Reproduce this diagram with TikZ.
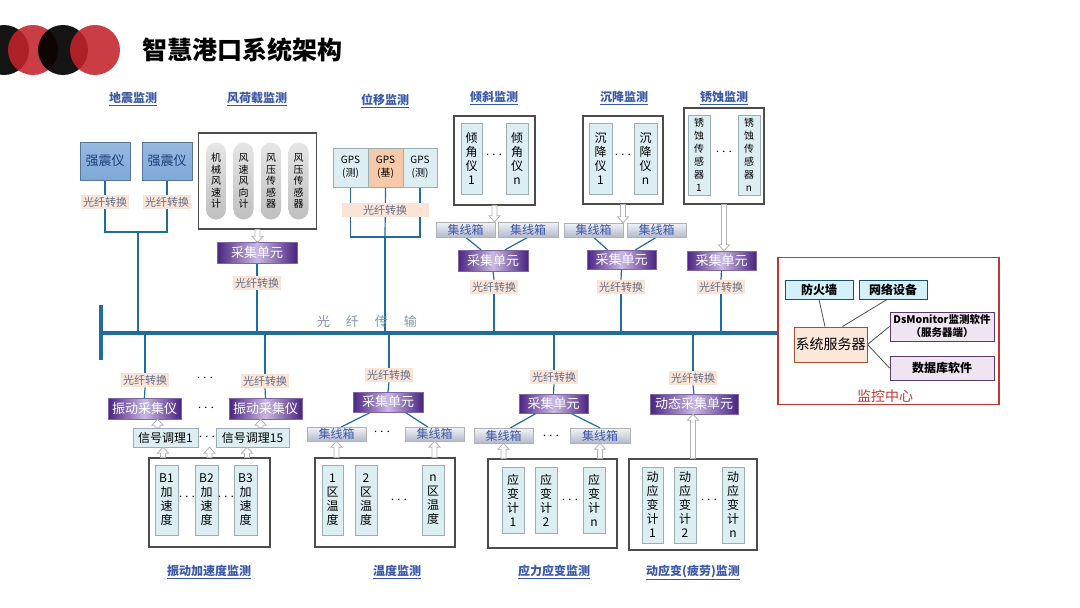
\documentclass[tikz,border=0pt]{standalone}
\usepackage{fontspec}
\setmainfont{Noto Sans CJK SC}
\usetikzlibrary{calc,backgrounds}

\definecolor{busblue}{HTML}{1F6C9E}
\definecolor{labelblue}{HTML}{3A58A8}
\definecolor{cellblue}{HTML}{DCEEF2}
\definecolor{cellline}{HTML}{9AAFB5}
\definecolor{fiberfill}{HTML}{FBE4D5}
\definecolor{fibertext}{HTML}{5F6F8C}
\definecolor{unitdark}{HTML}{4A2480}
\definecolor{unitlight}{HTML}{C9B8E2}
\definecolor{hubtop}{HTML}{F2F3F7}
\definecolor{hubbot}{HTML}{B5BACB}
\definecolor{quakefill}{HTML}{7EA8D8}
\definecolor{quaketext}{HTML}{1C3D78}
\definecolor{monred}{HTML}{C0392B}
\definecolor{titlered}{HTML}{C4222A}
\definecolor{fwfill}{HTML}{D4F1F9}
\definecolor{fwline}{HTML}{1E4E6E}
\definecolor{srvfill}{HTML}{FCE7DB}
\definecolor{srvline}{HTML}{A0522D}
\definecolor{swfill}{HTML}{EFE4F1}
\definecolor{swline}{HTML}{5A3A6A}
\definecolor{gpsbase}{HTML}{F6C9A9}
\definecolor{bustext}{HTML}{8096B0}

\tikzset{
  bus/.style={draw=busblue, line width=3.5pt},
  trunk/.style={draw=busblue, line width=2.4pt},
  link/.style={draw=busblue, line width=1.2pt},
  head/.style={text=labelblue, font=\fontsize{12}{14}\selectfont\bfseries},
  fiber/.style={fill=fiberfill, text=fibertext, inner sep=2pt, font=\fontsize{11}{13}\selectfont},
  unit/.style={left color=unitdark, right color=unitdark, middle color=unitlight, draw=unitdark!70, text=white, font=\fontsize{13}{15}\selectfont, inner sep=0pt},
  hub/.style={top color=hubtop, bottom color=hubbot, draw=gray!60, text=labelblue, font=\fontsize{12}{14}\selectfont, inner sep=0pt},
  cell/.style={draw=cellline, fill=cellblue, inner sep=0pt, align=center, font=\fontsize{12}{14}\selectfont},
  quake/.style={top color=quakefill!80, bottom color=quakefill, draw=quakefill!70!black, text=quaketext, font=\fontsize{13}{15}\selectfont},
  group/.style={draw=black!70, line width=1.1pt, fill=white, inner sep=0pt},
  pill/.style={rounded corners=10pt, top color=gray!20, bottom color=gray!50, inner sep=0pt, align=center, font=\fontsize{10}{11.5}\selectfont},
  dots/.style={inner sep=0pt, font=\fontsize{15}{15}\selectfont},
  hollow/.style={draw=gray!60, fill=white, line width=0.8pt,
    to path={let \p1=(\tikztostart), \p2=(\tikztotarget), \n1={sign(\y2-\y1)} in
      ({\x1-2.5pt},\y1) -- ({\x1-2.5pt},{\y2-(\n1)*6pt}) -- ({\x1-5.5pt},{\y2-(\n1)*6pt}) -- (\x1,\y2)
      -- ({\x1+5.5pt},{\y2-(\n1)*6pt}) -- ({\x1+2.5pt},{\y2-(\n1)*6pt}) -- ({\x1+2.5pt},\y1) -- cycle}},
  box/.style={draw=#1, line width=1pt, inner sep=0pt, align=center}
}

\begin{document}
\begin{tikzpicture}[x=1pt,y=-1pt]
\useasboundingbox (0,0) rectangle (1080,608);

% Title
\fill[black, opacity=.92] (4,50) circle (25);
\fill[titlered, opacity=.88] (33,50) circle (25);
\fill[black, opacity=.92] (63,50) circle (25);
\fill[titlered, opacity=.88] (95,50) circle (25);
\node[anchor=west, font=\fontsize{25}{28}\selectfont\bfseries] (title) at (139,50) {智慧港口系统架构};

% Section heads
\node[head] (hQuake) at (133,99) {\underline{地震监测}};
\node[head] (hWind) at (257,99) {\underline{风荷载监测}};
\node[head] (hGps) at (385,101) {\underline{位移监测}};
\node[head] (hTilt) at (494,98) {\underline{倾斜监测}};
\node[head] (hSett) at (624,98) {\underline{沉降监测}};
\node[head] (hCor) at (724,98) {\underline{锈蚀监测}};

% Seismic
\node[quake, minimum width=50, minimum height=38] (q1) at (105,161) {强震仪};
\node[quake, minimum width=50, minimum height=38] (q2) at (167,161) {强震仪};
\node[fiber] (fq1) at (105,202) {光纤转换};
\node[fiber] (fq2) at (167,202) {光纤转换};
\coordinate (qj) at (138,232);

% Wind load
\node[group, minimum width=118, minimum height=96] (wind) at (257.5,181) {};
\node[pill, minimum width=20, minimum height=77] (p1) at (216,181) {机\\械\\风\\速\\计};
\node[pill, minimum width=20, minimum height=77] (p2) at (243.5,181) {风\\速\\风\\向\\计};
\node[pill, minimum width=20, minimum height=77] (p3) at (271,181) {风\\压\\传\\感\\器};
\node[pill, minimum width=20, minimum height=77] (p4) at (298.5,181) {风\\压\\传\\感\\器};
\node[unit, minimum width=80, minimum height=21] (wu) at (257,253) {采集单元};
\node[fiber] (fwd) at (257,283) {光纤转换};

% Displacement
\node[cell, minimum width=35, minimum height=39, font=\fontsize{10}{13}\selectfont] (g1) at (350.5,167.5) {GPS\\(测)};
\node[cell, fill=gpsbase, minimum width=35, minimum height=39, font=\fontsize{10}{13}\selectfont] (g2) at (385.5,167.5) {GPS\\(基)};
\node[cell, minimum width=34, minimum height=39, font=\fontsize{10}{13}\selectfont] (g3) at (420,167.5) {GPS\\(测)};
\node[fiber, minimum width=87, minimum height=14] (fg) at (385,210) {光纤转换};
\coordinate (gj) at (385,237);

% Tilt
\node[group, minimum width=81, minimum height=89] (tilt) at (494.5,160.5) {};
\node[cell, minimum width=21, minimum height=71] (t1) at (471.5,158.5) {倾\\角\\仪\\1};
\node[cell, minimum width=22, minimum height=71] (tn) at (517,158.5) {倾\\角\\仪\\n};
\node[dots] (td) at (494,155) {$\cdots$};
\node[hub, minimum width=59, minimum height=15] (th1) at (465.5,229.5) {集线箱};
\node[hub, minimum width=60, minimum height=15] (th2) at (528,229.5) {集线箱};
\node[unit, minimum width=70, minimum height=21] (tu) at (493,260.5) {采集单元};
\node[fiber] (ft) at (494,287) {光纤转换};

% Settlement
\node[group, minimum width=80, minimum height=88] (sett) at (623,160) {};
\node[cell, minimum width=23, minimum height=71] (s1) at (600.5,158.5) {沉\\降\\仪\\1};
\node[cell, minimum width=23, minimum height=71] (sn) at (645.5,158.5) {沉\\降\\仪\\n};
\node[dots] (sd) at (623,155) {$\cdots$};
\node[hub, minimum width=59, minimum height=14] (sh1) at (593.5,230) {集线箱};
\node[hub, minimum width=59, minimum height=14] (sh2) at (656.5,230) {集线箱};
\node[unit, minimum width=69, minimum height=19] (su) at (621.5,259.5) {采集单元};
\node[fiber] (fs) at (621,287) {光纤转换};

% Corrosion
\node[group, minimum width=80, minimum height=96] (cor) at (724,156) {};
\node[cell, minimum width=22, minimum height=80, font=\fontsize{10}{13}\selectfont] (c1) at (699,155) {锈\\蚀\\传\\感\\器\\1};
\node[cell, minimum width=22, minimum height=80, font=\fontsize{10}{13}\selectfont] (cn) at (749,155) {锈\\蚀\\传\\感\\器\\n};
\node[dots] (cd) at (724,152) {$\cdots$};
\node[unit, minimum width=69, minimum height=19] (cu) at (721.5,260.5) {采集单元};
\node[fiber] (fc) at (721,287) {光纤转换};

% Monitoring centre
\node[draw=monred, line width=1.2pt, minimum width=221, minimum height=147] (mon) at (888.5,331) {};
\node[box=fwline, fill=fwfill, minimum width=68, minimum height=19, font=\fontsize{12}{14}\selectfont\bfseries] (fw) at (819,289.5) {防火墙};
\node[box=fwline, fill=fwfill, minimum width=68, minimum height=19, font=\fontsize{12}{14}\selectfont\bfseries] (net) at (893,289.5) {网络设备};
\node[box=srvline, fill=srvfill, minimum width=73, minimum height=35, font=\fontsize{14}{16}\selectfont] (srv) at (830.5,344.5) {系统服务器};
\node[box=swline, fill=swfill, minimum width=104, minimum height=29, font=\fontsize{10.5}{13}\selectfont\bfseries] (dsm) at (942,326.5) {DsMonitor监测软件\\（服务器端）};
\node[box=swline, fill=swfill, minimum width=104, minimum height=24, font=\fontsize{12}{14}\selectfont\bfseries] (db) at (942,368) {数据库软件};
\node[text=monred, font=\fontsize{14}{16}\selectfont] (monlbl) at (885,396) {监控中心};

% Fibre bus
\coordinate (busL) at (101,333);
\coordinate (busT) at (101,305);
\coordinate (busB) at (101,360);
\node[text=bustext, font=\fontsize{13}{15}\selectfont] (busname) at (367,322) {光\hspace{16pt}纤\hspace{16pt}传\hspace{16pt}输};

% Vibration
\node[fiber] (fv1) at (145,380) {光纤转换};
\node[fiber] (fv2) at (265,381) {光纤转换};
\node[dots] (fvd) at (205,378) {$\cdots$};
\node[unit, minimum width=73, minimum height=21] (vu1) at (144.5,408.5) {振动采集仪};
\node[unit, minimum width=73, minimum height=21] (vu2) at (265.5,408.5) {振动采集仪};
\node[dots] (vud) at (206,408) {$\cdots$};
\node[cell, minimum width=65, minimum height=19] (sig1) at (165.5,437.5) {信号调理1};
\node[cell, minimum width=73, minimum height=19] (sig2) at (252.5,437.5) {信号调理15};
\node[dots] (sigd) at (207,437) {$\cdots$};
\node[group, minimum width=121, minimum height=89] (vb) at (209.5,502.5) {};
\node[cell, minimum width=23, minimum height=70] (b1) at (166.5,500) {B1\\加\\速\\度};
\node[cell, minimum width=23, minimum height=70] (b2) at (206.5,500) {B2\\加\\速\\度};
\node[cell, minimum width=23, minimum height=70] (b3) at (245.5,500) {B3\\加\\速\\度};
\node[dots] (bd1) at (187,497) {$\cdots$};
\node[dots] (bd2) at (226,497) {$\cdots$};
\node[head] (hVib) at (209,572) {\underline{振动加速度监测}};

% Temperature
\node[fiber] (ftm) at (389,375) {光纤转换};
\node[unit, minimum width=70, minimum height=20] (tmu) at (388,402) {采集单元};
\node[hub, minimum width=59, minimum height=14] (tmh1) at (336.5,434) {集线箱};
\node[hub, minimum width=59, minimum height=14] (tmh2) at (434.5,434) {集线箱};
\node[dots] (tmd) at (382,432) {$\cdots$};
\node[group, minimum width=140, minimum height=89] (tb) at (385,502.5) {};
\node[cell, minimum width=21, minimum height=70] (tm1) at (332.5,500) {1\\区\\温\\度};
\node[cell, minimum width=22, minimum height=70] (tm2) at (366,500) {2\\区\\温\\度};
\node[cell, minimum width=22, minimum height=70] (tmn) at (433,500) {n\\区\\温\\度};
\node[dots] (tmcd) at (399,500) {$\cdots$};
\node[head] (hTemp) at (397,572) {\underline{温度监测}};

% Strain
\node[fiber] (fsn) at (554,377) {光纤转换};
\node[unit, minimum width=69, minimum height=19] (snu) at (553.5,403.5) {采集单元};
\node[hub, minimum width=59, minimum height=15] (snh1) at (503.5,435.5) {集线箱};
\node[hub, minimum width=60, minimum height=15] (snh2) at (600,435.5) {集线箱};
\node[dots] (snd) at (551,436) {$\cdots$};
\node[group, minimum width=129, minimum height=89] (sb) at (552.5,503.5) {};
\node[cell, minimum width=22, minimum height=66] (sn1) at (513,500) {应\\变\\计\\1};
\node[cell, minimum width=22, minimum height=66] (sn2) at (546,500) {应\\变\\计\\2};
\node[cell, minimum width=22, minimum height=66] (snn) at (594,500) {应\\变\\计\\n};
\node[dots] (sncd) at (570,500) {$\cdots$};
\node[head] (hStrain) at (554,572) {\underline{应力应变监测}};

% Dynamic strain
\node[fiber] (fdy) at (693,378) {光纤转换};
\node[unit, minimum width=88, minimum height=20] (dyu) at (694,404) {动态采集单元};
\node[group, minimum width=128, minimum height=91] (dyb) at (693,504.5) {};
\node[cell, minimum width=21, minimum height=76] (dy1) at (652.5,505) {动\\应\\变\\计\\1};
\node[cell, minimum width=22, minimum height=76] (dy2) at (685,505) {动\\应\\变\\计\\2};
\node[cell, minimum width=22, minimum height=76] (dyn) at (733,505) {动\\应\\变\\计\\n};
\node[dots] (dycd) at (709,500) {$\cdots$};
\node[head] (hDyn) at (693,572) {\underline{动应变(疲劳)监测}};

% Hollow arrows
\draw[hollow] (wind.south) to (wu.north);
\draw[hollow] (tilt.south) to (tilt.south |- th1.north);
\draw[hollow] (sett.south) to (sett.south |- sh1.north);
\draw[hollow] (cor.south) to (cor.south |- cu.north);
\draw[hollow] ([xshift=-8]sig1.north) to ([xshift=-8]sig1.north |- vu1.south);
\draw[hollow] ([xshift=8]sig2.north) to ([xshift=8]sig2.north |- vu2.south);
\draw[hollow] ([xshift=-46.5]vb.north) to ([xshift=-46.5]vb.north |- sig1.south);
\draw[hollow] (vb.north) to (vb.north |- sig1.south);
\draw[hollow] ([xshift=37.5]vb.north) to ([xshift=37.5]vb.north |- sig2.south);
\draw[hollow] (tmh1.south |- tb.north) to (tmh1.south);
\draw[hollow] (tmh2.south |- tb.north) to (tmh2.south);
\draw[hollow] (snh1.south |- sb.north) to (snh1.south);
\draw[hollow] (snh2.south |- sb.north) to (snh2.south);
\draw[hollow] (dyb.north) to (dyu.south);

% Connectors behind the boxes
\begin{scope}[on background layer]
  \draw[bus] (busL) -- (busL -| mon.west);
  \draw[bus] (busT) -- (busB);
  % top branches
  \draw[link] (q1.south) -- (fq1.north);
  \draw[link] (q2.south) -- (fq2.north);
  \draw[link] (fq1.south) -- (fq1.south |- qj) -- (fq2.south |- qj) -- (fq2.south);
  \draw[trunk] (qj) -- (qj |- busL);
  \draw[link] (wu.south) -- (fwd.north);
  \draw[trunk] (fwd.south) -- (fwd.south |- busL);
  \draw[link] (g1.south) -- (g1.south |- gj) -- (g3.south |- gj) -- (g3.south);
  \draw[link] (g2.south) -- (gj);
  \draw[trunk] (gj) -- (gj |- busL);
  \draw[link] (th1.south) -- ([xshift=-12]tu.north);
  \draw[link] (th2.south) -- ([xshift=12]tu.north);
  \draw[link] (tu.south) -- (ft.north);
  \draw[trunk] (ft.south) -- (ft.south |- busL);
  \draw[link] (sh1.south) -- ([xshift=-14]su.north);
  \draw[link] (sh2.south) -- ([xshift=14]su.north);
  \draw[link] (su.south) -- (fs.north);
  \draw[trunk] (fs.south) -- (fs.south |- busL);
  \draw[link] (cu.south) -- (fc.north);
  \draw[trunk] (fc.south) -- (fc.south |- busL);
  % bottom branches
  \draw[trunk] (fv1.north |- busL) -- (fv1.north);
  \draw[link] (fv1.south) -- (vu1.north);
  \draw[trunk] (fv2.north |- busL) -- (fv2.north);
  \draw[link] (fv2.south) -- (vu2.north);
  \draw[trunk] (ftm.north |- busL) -- (ftm.north);
  \draw[link] (ftm.south) -- (tmu.north);
  \draw[link] ([xshift=-17]tmu.south) -- ([xshift=5]tmh1.north);
  \draw[link] ([xshift=17]tmu.south) -- ([xshift=-7]tmh2.north);
  \draw[trunk] (fsn.north |- busL) -- (fsn.north);
  \draw[link] (fsn.south) -- (snu.north);
  \draw[link] ([xshift=-17]snu.south) -- ([xshift=7]snh1.north);
  \draw[link] ([xshift=17]snu.south) -- (snh2.north);
  \draw[trunk] (fdy.north |- busL) -- (fdy.north);
  \draw[link] (fdy.south) -- (dyu.north);
  % monitoring centre
  \draw[black!70, line width=0.8pt] (fw.south) -- ([xshift=-5.5]srv.north);
  \draw[black!70, line width=0.8pt] ([xshift=-6]net.south) -- ([xshift=12]srv.north);
  \draw[black!70, line width=0.8pt] (srv.east) -- (dsm.west);
  \draw[black!70, line width=0.8pt] (srv.east) -- (db.west);
\end{scope}
\end{tikzpicture}
\end{document}
